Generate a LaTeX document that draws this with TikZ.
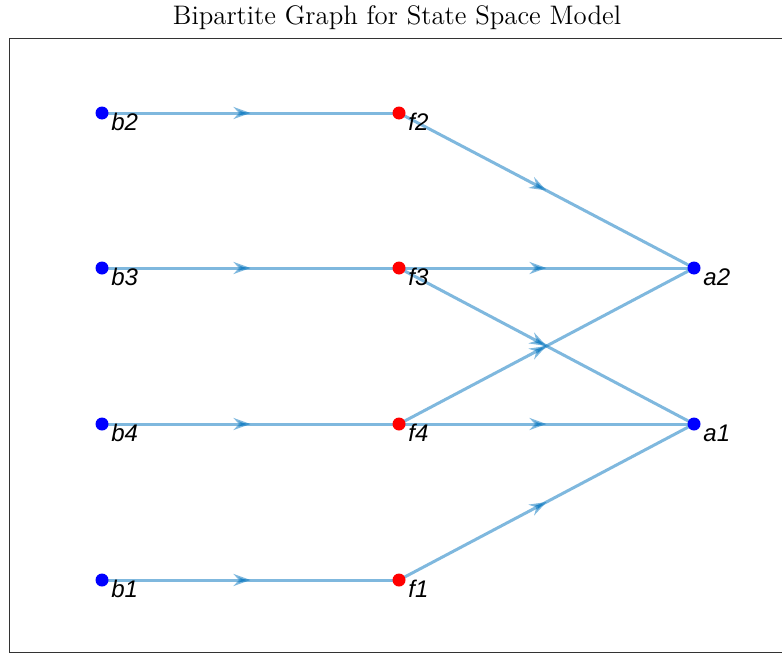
\documentclass[tikz,border=0pt]{standalone}
\usepackage{fontspec}
\newfontfamily\lblfont{Liberation Sans}
\usetikzlibrary{arrows.meta,decorations.markings}
\definecolor{edgeblue}{RGB}{0,114,189}
\tikzset{
  x=0.5pt, y=-0.5pt,
  vtx/.style={circle, fill=#1, inner sep=0pt, minimum size=6.5pt},
  lbl/.style={font=\lblfont\itshape\fontsize{12}{14}\selectfont, inner sep=0pt, anchor=base west},
  edge/.style={draw=edgeblue, draw opacity=0.5, line width=1.5pt,
    decoration={markings, mark=at position 0.5 with {\arrow[edgeblue, opacity=0.5]{Stealth[length=8.5pt, width=6pt, inset=2.8pt]}}},
    postaction={decorate}},
  frame/.style={draw=black!80, line width=0.5pt}
}
\begin{document}
\begin{tikzpicture}
\useasboundingbox (0,0) rectangle (782,653);
\draw[frame] (9.5,38.5) rectangle (790,652);
\node[font=\fontsize{13.4}{16}\selectfont, anchor=base] (title) at (397,25) {Bipartite Graph for State Space Model};
% nodes
\coordinate (b2) at (102,113);
\coordinate (b3) at (102,268);
\coordinate (b4) at (102,424);
\coordinate (b1) at (102,580);
\coordinate (f2) at (399,113);
\coordinate (f3) at (399,268);
\coordinate (f4) at (399,424);
\coordinate (f1) at (399,580);
\coordinate (a2) at (694,268);
\coordinate (a1) at (694,424);
% edges
\foreach \s/\t in {b2/f2,b3/f3,b4/f4,b1/f1,f2/a2,f3/a2,f3/a1,f4/a2,f4/a1,f1/a1}
  \path[edge] (\s) -- (\t);
% dots and labels
\foreach \n in {b2,b3,b4,b1,a2,a1}{
  \node[vtx=blue] (v\n) at (\n) {};
  \node[lbl] (l\n) at ([shift={(9,17)}]\n) {\n};
}
\foreach \n in {f2,f3,f4,f1}{
  \node[vtx=red] (v\n) at (\n) {};
  \node[lbl] (l\n) at ([shift={(9,17)}]\n) {\n};
}
\end{tikzpicture}
\end{document}
